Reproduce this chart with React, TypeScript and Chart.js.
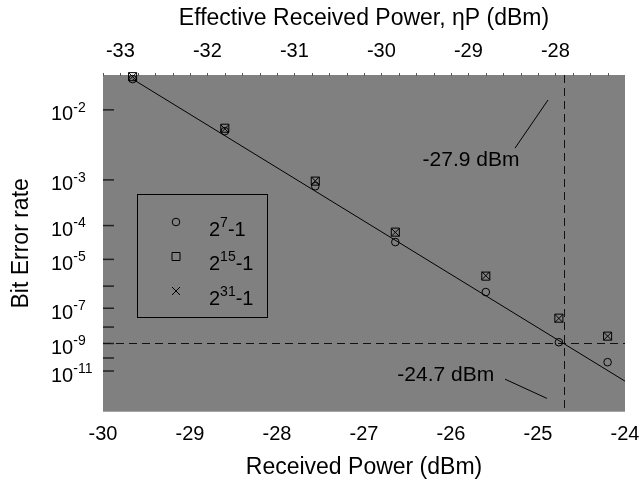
import React, { useEffect, useRef } from 'react';
import { Chart, registerables } from 'chart.js';

Chart.register(...registerables);

// ---- data ----
const receivedPower = [-29.66, -28.6, -27.56, -26.64, -25.6, -24.76, -24.2];
const ber27 = [2.0e-2, 5.6e-3, 7.6e-4, 3.5e-5, 5.6e-7, 1.2e-9, 4.9e-11];
const ber215 = [2.1e-2, 6.1e-3, 9.5e-4, 6.7e-5, 2.5e-6, 3.1e-8, 2.9e-9];
const ber231 = [2.1e-2, 6.0e-3, 9.6e-4, 6.6e-5, 2.6e-6, 3.0e-8, 2.9e-9];
const fitPower = [-29.66, -24.0];
const fitBer = [2.0e-2, 1.4e-12];

const bottomTicks = [-30, -29, -28, -27, -26, -25, -24];
const topTicks = [-33, -32, -31, -30, -29, -28];
const etaDb = -3.2; // effective = received + etaDb
const xRange = [-30, -24];
const berRange = [2.17e-2, 1.3e-15];
const berTickExps = [2, 3, 4, 5, 6, 7, 8, 9, 10, 11];
const berLabelExps = [2, 3, 4, 5, 7, 9, 11];
const thresholdBer = 1e-9;
const thresholdPower = -24.7;
const legendEntries = [
  { style: 'circle', base: '2', sup: '7', tail: '-1' },
  { style: 'rect', base: '2', sup: '15', tail: '-1' },
  { style: 'cross', base: '2', sup: '31', tail: '-1' },
];
// annotations (x in dBm, y in BER)
const annotationTexts = ['-27.9 dBm', '-24.7 dBm'];
const annotationTextPos = [
  [-25.77, 2.17e-3],
  [-26.06, 4.56e-12],
];
const annotationLeaders = [
  [[-25.264, 3.3e-3], [-24.885, 1.27e-2]],
  [[-25.379, 2.08e-12], [-24.897, 3.34e-14]],
];

// ---- BER (Q-factor) scale transform ----
function erfc(x: number): number {
  const z = Math.abs(x);
  const t = 1 / (1 + 0.5 * z);
  const r =
    t *
    Math.exp(
      -z * z - 1.26551223 +
        t * (1.00002368 + t * (0.37409196 + t * (0.09678418 + t * (-0.18628806 + t * (0.27886807 + t * (-1.13520398 + t * (1.48851587 + t * (-0.82215223 + t * 0.17087277))))))))
    );
  return x >= 0 ? r : 2 - r;
}
function qInv(ber: number): number {
  let lo = 0, hi = 20;
  for (let i = 0; i < 80; i++) {
    const mid = (lo + hi) / 2;
    if (0.5 * erfc(mid / Math.SQRT2) > ber) lo = mid; else hi = mid;
  }
  return (lo + hi) / 2;
}
const berToT = (ber: number) => Math.log10(qInv(ber));

const FONT = '"Liberation Sans", Arial, sans-serif';

export default function App() {
  const ref = useRef<HTMLCanvasElement | null>(null);
  useEffect(() => {
    const canvas = ref.current!;
    const toPts = (ys: number[]) => receivedPower.map((x, i) => ({ x, y: berToT(ys[i]) }));

    const decor = {
      id: 'decor',
      beforeDatasetsDraw(chart: any) {
        const { ctx, chartArea: a, scales } = chart;
        const xs = scales.x, ys = scales.y;
        ctx.save();
        ctx.fillStyle = '#808080';
        ctx.fillRect(a.left, a.top, a.right - a.left, a.bottom - a.top);
        // y tick marks (inside)
        ctx.strokeStyle = '#222';
        ctx.lineWidth = 1.5;
        berTickExps.forEach((k) => {
          const y = ys.getPixelForValue(berToT(Math.pow(10, -k)));
          ctx.beginPath();
          ctx.moveTo(a.left, y);
          ctx.lineTo(a.left + 11, y);
          ctx.stroke();
        });
        // top minor ticks
        ctx.strokeStyle = '#555';
        ctx.lineWidth = 1;
        for (let k = -166; k <= -136; k++) {
          const v = k * 0.2 - etaDb;
          const x = Math.round(xs.getPixelForValue(v)) + 0.5;
          if (x < a.left || x > a.right) continue;
          ctx.beginPath();
          ctx.moveTo(x, a.top - 2);
          ctx.lineTo(x, a.top + 1);
          ctx.stroke();
        }
        // dashed threshold lines
        ctx.strokeStyle = '#111';
        ctx.setLineDash([8, 5]);
        const hy = Math.round(ys.getPixelForValue(berToT(thresholdBer))) + 0.5;
        ctx.beginPath();
        ctx.moveTo(a.left, hy);
        ctx.lineTo(a.right, hy);
        ctx.stroke();
        const vx = Math.round(xs.getPixelForValue(thresholdPower)) + 0.5;
        ctx.beginPath();
        ctx.moveTo(vx, a.top);
        ctx.lineTo(vx, a.bottom);
        ctx.stroke();
        ctx.setLineDash([]);
        ctx.restore();
      },
      afterDatasetsDraw(chart: any) {
        const { ctx, chartArea: a, scales } = chart;
        const xs = scales.x, ys = scales.y;
        ctx.save();
        ctx.fillStyle = '#000';
        // y tick labels with superscripts
        berLabelExps.forEach((k) => {
          const y = ys.getPixelForValue(berToT(Math.pow(10, -k)));
          ctx.font = `20px ${FONT}`;
          ctx.textBaseline = 'middle';
          ctx.textAlign = 'left';
          const x0 = 51;
          ctx.fillText('10', x0, y + 5);
          const w = ctx.measureText('10').width;
          ctx.font = `14px ${FONT}`;
          ctx.fillText('-' + k, x0 + w, y - 2);
        });
        // annotations
        ctx.font = `21px ${FONT}`;
        ctx.textAlign = 'center';
        ctx.textBaseline = 'middle';
        annotationTexts.forEach((t, i) => {
          const [px, pb] = annotationTextPos[i];
          ctx.fillText(t, xs.getPixelForValue(px), ys.getPixelForValue(berToT(pb)));
          const [[x1, b1], [x2, b2]] = annotationLeaders[i];
          ctx.strokeStyle = '#000';
          ctx.lineWidth = 1;
          ctx.beginPath();
          ctx.moveTo(xs.getPixelForValue(x1), ys.getPixelForValue(berToT(b1)));
          ctx.lineTo(xs.getPixelForValue(x2), ys.getPixelForValue(berToT(b2)));
          ctx.stroke();
        });
        // legend box
        const lx = a.left + 34, ly = a.top + 119, lw = 130, lh = 123;
        ctx.strokeStyle = '#000';
        ctx.lineWidth = 1;
        ctx.strokeRect(lx + 0.5, ly + 0.5, lw, lh);
        legendEntries.forEach((e, i) => {
          const my = ly + 28 + i * 34.5;
          const mx = lx + 39;
          ctx.beginPath();
          if (e.style === 'circle') {
            ctx.arc(mx, my, 3.8, 0, Math.PI * 2);
          } else if (e.style === 'rect') {
            ctx.rect(mx - 4, my - 4, 8, 8);
          } else {
            ctx.moveTo(mx - 4, my - 4); ctx.lineTo(mx + 4, my + 4);
            ctx.moveTo(mx + 4, my - 4); ctx.lineTo(mx - 4, my + 4);
          }
          ctx.stroke();
          const tx = lx + 72;
          ctx.textAlign = 'left';
          ctx.textBaseline = 'middle';
          ctx.font = `20px ${FONT}`;
          ctx.fillText(e.base, tx, my + 8);
          let w = ctx.measureText(e.base).width;
          ctx.font = `14px ${FONT}`;
          ctx.fillText(e.sup, tx + w, my + 1);
          w += ctx.measureText(e.sup).width;
          ctx.font = `20px ${FONT}`;
          ctx.fillText(e.tail, tx + w, my + 8);
        });
        ctx.restore();
      },
    };

    const noPadX = (h: number) => (s: any) => { s.height = h; s.paddingLeft = 0; s.paddingRight = 0; };

    const chart = new Chart(canvas, {
      type: 'scatter',
      data: {
        datasets: [
          {
            label: 'fit',
            data: fitPower.map((x, i) => ({ x, y: berToT(fitBer[i]) })),
            showLine: true,
            borderColor: '#000',
            borderWidth: 1,
            pointRadius: 0,
            clip: false,
          } as any,
          {
            label: '2^7-1',
            data: toPts(ber27),
            pointStyle: 'circle',
            pointRadius: 3.8,
            borderColor: '#000',
            backgroundColor: 'rgba(0,0,0,0)',
            borderWidth: 1,
            clip: false,
          },
          {
            label: '2^15-1',
            data: toPts(ber215),
            pointStyle: 'rect',
            pointRadius: 5.7,
            borderColor: '#000',
            backgroundColor: 'rgba(0,0,0,0)',
            borderWidth: 1,
            clip: false,
          },
          {
            label: '2^31-1',
            data: toPts(ber231),
            pointStyle: 'crossRot',
            pointRadius: 5.7,
            borderColor: '#000',
            backgroundColor: 'rgba(0,0,0,0)',
            borderWidth: 1,
            clip: false,
          },
        ],
      },
      options: {
        responsive: false,
        animation: false,
        devicePixelRatio: 1,
        events: [],
        layout: { padding: { left: 0, right: 15, top: 0, bottom: 0 } },
        plugins: { legend: { display: false }, tooltip: { enabled: false } },
        scales: {
          x: {
            type: 'linear',
            position: 'bottom',
            min: xRange[0],
            max: xRange[1],
            afterBuildTicks: (s: any) => { s.ticks = bottomTicks.map((v) => ({ value: v })); },
            ticks: { color: '#000', font: { family: FONT, size: 20 }, padding: 11, maxRotation: 0, autoSkip: false },
            grid: { display: false, drawTicks: false },
            border: { display: false },
            title: { display: true, text: 'Received Power (dBm)', color: '#000', font: { family: FONT, size: 23 }, padding: { top: 0, bottom: 8 } },
            afterFit: noPadX(77.3),
          },
          x2: {
            type: 'linear',
            position: 'top',
            min: xRange[0] + etaDb,
            max: xRange[1] + etaDb,
            afterBuildTicks: (s: any) => { s.ticks = topTicks.map((v) => ({ value: v })); },
            ticks: { color: '#000', font: { family: FONT, size: 20 }, padding: 12, maxRotation: 0, autoSkip: false },
            grid: { display: false, drawTicks: false },
            border: { display: false },
            title: { display: true, text: 'Effective Received Power, ηP (dBm)', color: '#000', font: { family: FONT, size: 23 }, padding: { top: 5, bottom: 0 } },
            afterFit: noPadX(75),
          },
          y: {
            type: 'linear',
            min: berToT(berRange[0]),
            max: berToT(berRange[1]),
            reverse: true,
            ticks: { display: false },
            grid: { display: false, drawTicks: false },
            border: { display: false },
            title: { display: true, text: 'Bit Error rate', color: '#000', font: { family: FONT, size: 23 }, padding: { top: 8, bottom: 0 } },
            afterFit: (s: any) => { s.width = 103; s.paddingTop = 0; s.paddingBottom = 0; },
          },
        },
      } as any,
      plugins: [decor],
    });
    return () => chart.destroy();
  }, []);

  return (
    <div style={{ position: 'fixed', left: 0, top: 0, width: 640, height: 489, background: '#fff' }}>
      <canvas ref={ref} width={640} height={489} style={{ display: 'block', width: 640, height: 489 }} />
    </div>
  );
}
